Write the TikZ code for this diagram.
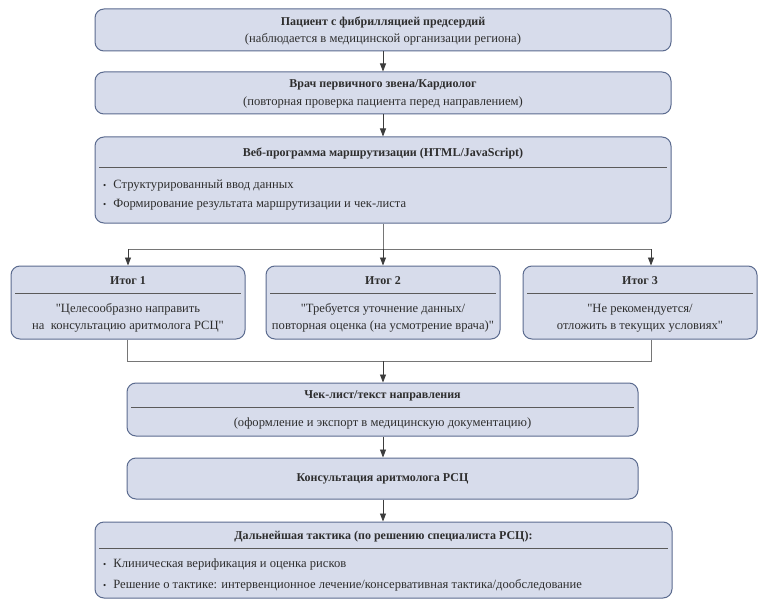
\documentclass[tikz,border=0pt]{standalone}
\usepackage{fontspec}
\setmainfont{Liberation Serif}[Ligatures=TeXOff]
\usetikzlibrary{arrows.meta}
\definecolor{boxfill}{HTML}{D7DCEB}
\definecolor{boxdraw}{HTML}{5B6B8F}
\definecolor{txt}{HTML}{2E2E2E}
\definecolor{conn}{HTML}{3C3C3C}
\definecolor{sepc}{HTML}{5A5A5A}
\begin{document}
\begin{tikzpicture}[x=1pt,y=-1pt,
  box/.style={draw=boxdraw, fill=boxfill, rounded corners=9pt, line width=1pt, inner sep=0pt},
  lbl/.style={text=txt, font=\fontsize{12.6}{17}\selectfont, align=center, inner sep=0pt},
  ttl/.style={text=txt, font=\fontsize{12}{15}\selectfont\bfseries, align=center, inner sep=0pt},
  itm/.style={text=txt, font=\fontsize{12.6}{15}\selectfont, anchor=west, inner sep=0pt},
  sepline/.style={draw=sepc, line width=0.8pt},
  arr/.style={draw=conn, line width=0.8pt, -{Triangle[length=8pt,width=6pt]}},
  ln/.style={draw=conn!70, line width=0.8pt}]
\useasboundingbox[fill=white] (0,0) rectangle (768,607);

% Box 1
\node[box, minimum width=576pt, minimum height=42pt] (b1) at (383,30) {};
\node[ttl] (b1t) at (383,22) {Пациент с фибрилляцией предсердий};
\node[lbl] (b1s) at (383,39) {(наблюдается в медицинской организации региона)};

% Box 2
\node[box, minimum width=576pt, minimum height=42pt] (b2) at (383,93) {};
\node[ttl] (b2t) at (383,85) {Врач первичного звена/Кардиолог};
\node[lbl] (b2s) at (383,102) {(повторная проверка пациента перед направлением)};

% Box 3
\node[box, minimum width=576pt, minimum height=86pt] (b3) at (383,180) {};
\node[ttl] (b3t) at (383,154) {Веб-программа маршрутизации (HTML/JavaScript)};
\draw[sepline] (99,167) -- (667,167);
\node[itm] (b3a) at (103,186) {{\small•}\hspace{7pt}Структурированный ввод данных};
\node[itm] (b3b) at (103,205) {{\small•}\hspace{7pt}Формирование результата маршрутизации и чек-листа};

% Outcomes
\node[box, minimum width=234pt, minimum height=73pt] (r1) at (128,302.5) {};
\node[ttl] (r1t) at (128,281) {Итог 1};
\draw[sepline] (15,293) -- (241,293);
\node[lbl] (r1s) at (128,318) {"Целесообразно направить\\на~ консультацию аритмолога РСЦ"};

\node[box, minimum width=234pt, minimum height=73pt] (r2) at (383,302.5) {};
\node[ttl] (r2t) at (383,281) {Итог 2};
\draw[sepline] (270,293) -- (496,293);
\node[lbl] (r2s) at (383,318) {"Требуется уточнение данных/\\повторная оценка (на усмотрение врача)"};

\node[box, minimum width=234pt, minimum height=73pt] (r3) at (640,302.5) {};
\node[ttl] (r3t) at (640,281) {Итог 3};
\draw[sepline] (527,293) -- (753,293);
\node[lbl] (r3s) at (640,318) {"Не рекомендуется/\\отложить в текущих условиях"};

% Check-list
\node[box, minimum width=511pt, minimum height=53pt] (c1) at (382.5,409.5) {};
\node[ttl] (c1t) at (382.5,396) {Чек-лист/текст направления};
\draw[sepline] (131,407) -- (634,407);
\node[lbl] (c1s) at (382.5,423) {(оформление и экспорт в медицинскую документацию)};

% Consultation
\node[box, minimum width=511pt, minimum height=41pt] (c2) at (382.5,478.5) {};
\node[ttl] (c2t) at (382.5,479) {Консультация аритмолога РСЦ};

% Further tactics
\node[box, minimum width=577pt, minimum height=76pt] (d1) at (383.5,560) {};
\node[ttl] (d1t) at (383.5,537) {Дальнейшая тактика (по решению специалиста РСЦ):};
\draw[sepline] (99,548) -- (668,548);
\node[itm] (d1a) at (103,564) {{\small•}\hspace{7pt}Клиническая верификация и оценка рисков};
\node[itm] (d1b) at (103,585) {{\small•}\hspace{7pt}Решение о тактике: интервенционное лечение/консервативная тактика/дообследование};

% Connectors
\draw[arr] (b1) -- (b2);
\draw[arr] (b2) -- (b3);
\coordinate (hL) at (128,249);
\coordinate (hM) at (383,249);
\coordinate (hR) at (651,249);
\draw[ln] (b3.south) -- (hM);
\draw[ln] (hL) -- (hR);
\draw[arr] (hL) -- (hL |- r1.north);
\draw[arr] (hM) -- (r2);
\draw[arr] (hR) -- (hR |- r3.north);

\coordinate (lL) at (127,361);
\coordinate (lM) at (383,361);
\coordinate (lR) at (651,361);
\draw[ln] (lL |- r1.south) -- (lL) -- (lR) -- (lR |- r3.south);
\draw[arr] (lM) -- (lM |- c1.north);
\draw[arr] (c1.south -| lM) -- (lM |- c2.north);
\draw[arr] (c2.south -| lM) -- (lM |- d1.north);
\end{tikzpicture}
\end{document}
